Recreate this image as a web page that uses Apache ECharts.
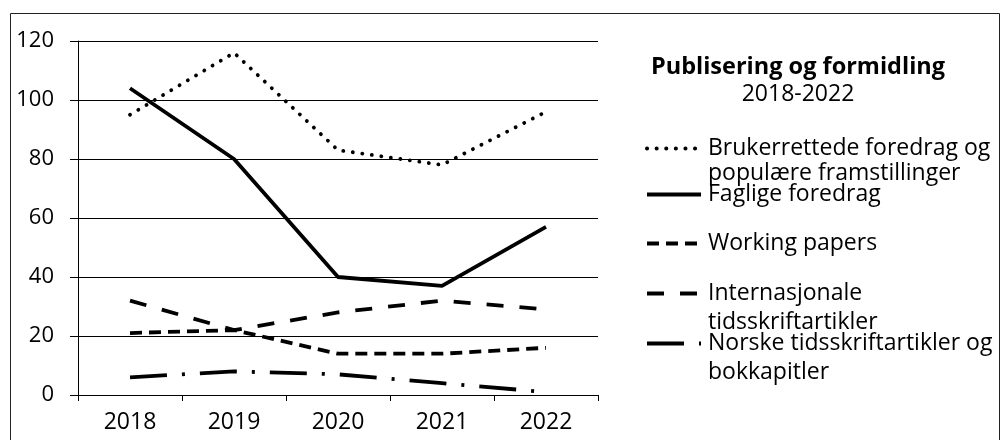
<!DOCTYPE html>
<html>
<head>
<meta charset="utf-8">
<script src="https://cdn.jsdelivr.net/npm/echarts@6/dist/echarts.min.js"></script>
<style>
  html, body { margin: 0; padding: 0; background: #fff; }
  #chart { width: 1007px; height: 440px; }
</style>
</head>
<body>
<div id="chart"></div>
<script>
const years = ['2018', '2019', '2020', '2021', '2022'];
const brukerrettede = [95, 116, 83, 78, 96];
const faglige = [104, 80, 40, 37, 57];
const workingPapers = [21, 22, 14, 14, 16];
const internasjonale = [32, 22, 28, 32, 29];
const norske = [6, 8, 7, 4, 1];

const names = [
  'Brukerrettede foredrag og\npopulære framstillinger',
  'Faglige foredrag',
  'Working papers',
  'Internasjonale\ntidsskriftartikler',
  'Norske tidsskriftartikler og\nbokkapitler'
];

const font = 'Open Sans';
const chart = echarts.init(document.getElementById('chart'), null, { renderer: 'canvas' });

const makeSeries = (name, data, type, width, cap) => ({
  name: name,
  type: 'line',
  data: data,
  symbol: 'none',
  smooth: false,
  animation: false,
  itemStyle: { color: '#000' },
  lineStyle: { color: '#000', width: width, type: type, cap: cap || 'butt' }
});

// one legend per entry so each can be placed like the original
// two-line names get a blank first line so the icon sits next to the first text line
const legendAt = (name, top, lineHeight) => ({
  data: [name],
  left: 645,
  top: top,
  padding: 0,
  orient: 'vertical',
  itemWidth: 54,
  itemHeight: 10,
  selectedMode: false,
  itemStyle: { opacity: 0 },
  lineStyle: { width: 4 },
  formatter: n => (n.indexOf('\n') >= 0 ? ' \n' + n : n),
  textStyle: {
    fontFamily: font,
    fontSize: 23,
    color: '#000',
    lineHeight: lineHeight,
    padding: [0, 0, 0, 2]
  }
});

const option = {
  animation: false,
  backgroundColor: '#fff',
  title: {
    text: 'Publisering og formidling',
    subtext: '2018-2022',
    left: 793,
    top: 50,
    textAlign: 'center',
    itemGap: 4,
    textStyle: { fontFamily: font, fontSize: 23.5, fontWeight: 'bold', color: '#000' },
    subtextStyle: { fontFamily: font, fontSize: 23, color: '#000' }
  },
  graphic: [{
    type: 'rect',
    shape: { x: 10.5, y: 13.5, width: 989, height: 480 },
    style: { fill: null, stroke: '#222', lineWidth: 1 },
    silent: true
  }],
  legend: [
    legendAt(names[0], 111, 25),
    legendAt(names[1], 182, 25),
    legendAt(names[2], 231, 25),
    legendAt(names[3], 250, 29),
    legendAt(names[4], 300, 29)
  ],
  grid: { left: 78, right: 409, top: 41, bottom: 45 },
  xAxis: {
    type: 'category',
    data: years,
    boundaryGap: true,
    axisLine: { lineStyle: { color: '#000', width: 1 } },
    axisTick: { show: true, length: 6, alignWithLabel: false, lineStyle: { color: '#000' } },
    axisLabel: { fontFamily: font, fontSize: 23, color: '#000', margin: 16 }
  },
  yAxis: {
    type: 'value',
    min: 0,
    max: 120,
    interval: 20,
    axisLine: { show: true, lineStyle: { color: '#000', width: 1 } },
    axisTick: { show: true, length: 8, lineStyle: { color: '#000' } },
    axisLabel: { fontFamily: font, fontSize: 22, color: '#000', margin: 24 },
    splitLine: { lineStyle: { color: '#000', width: 1 } }
  },
  series: [
    makeSeries(names[0], brukerrettede, [0.1, 9.5], 3.8, 'round'),
    makeSeries(names[1], faglige, 'solid', 3.8),
    makeSeries(names[2], workingPapers, [12, 7], 3.8),
    makeSeries(names[3], internasjonale, [17, 16], 3.8),
    makeSeries(names[4], norske, [37, 15, 3, 15], 3.8)
  ]
};

chart.setOption(option);
window.addEventListener('resize', chart.resize);
</script>
</body>
</html>
